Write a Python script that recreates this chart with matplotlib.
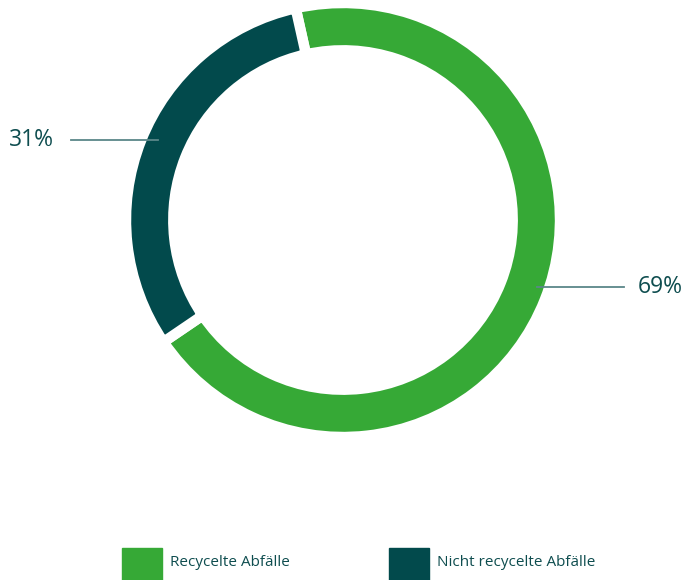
import matplotlib.pyplot as plt
from matplotlib.patches import Rectangle
from matplotlib.lines import Line2D

# Dati
categorie = ['Recycelte Abfälle', 'Nicht recycelte Abfälle']
valori = [69, 31]
etichette = ['69%', '31%']
colori = ['#36a936', '#024a4c']

plt.rcParams['font.family'] = ['Open Sans', 'DejaVu Sans']

fig = plt.figure(figsize=(6.9, 5.8), dpi=100)
W, H = 690, 580

# Donut (centro e raggio in pixel)
cx, cy, R = 343, 220, 217
ax = fig.add_axes([(cx - R) / W, (H - cy - R) / H, 2 * R / W, 2 * R / H])
ax.pie(valori, colors=colori, startangle=102.6, counterclock=False, radius=1,
       wedgeprops=dict(width=0.218, edgecolor='white', linewidth=7.5))
ax.set_xlim(-1, 1)
ax.set_ylim(-1, 1)
ax.set_aspect('equal')
ax.axis('off')

def px(x, y):
    return x / W, 1 - y / H

colore_testo = '#0e4d4f'
colore_linea = '#5b8789'

# Etichette percentuali
x0, y0 = px(71, 140)
x1, _ = px(158, 140)
fig.add_artist(Line2D([x0, x1], [y0, y0], color=colore_linea, lw=1.3))
fig.text(px(54, 0)[0], y0, etichette[1], ha='right', va='center',
         fontsize=16.5, color=colore_testo)

x0, y0 = px(537, 287)
x1, _ = px(624, 287)
fig.add_artist(Line2D([x0, x1], [y0, y0], color=colore_linea, lw=1.3))
fig.text(px(638, 0)[0], y0, etichette[0], ha='left', va='center',
         fontsize=16.5, color=colore_testo)

# Legenda
pos_legenda = [122, 389]
for i, nome in enumerate(categorie):
    lx = pos_legenda[i]
    fig.add_artist(Rectangle(px(lx, 588), 40 / W, 40 / H, color=colori[i],
                             transform=fig.transFigure))
    tx, ty = px(lx + 48, 563)
    fig.text(tx, ty, nome, ha='left', va='center', fontsize=11,
             color=colore_testo)

fig.savefig('out.png', dpi=100)
